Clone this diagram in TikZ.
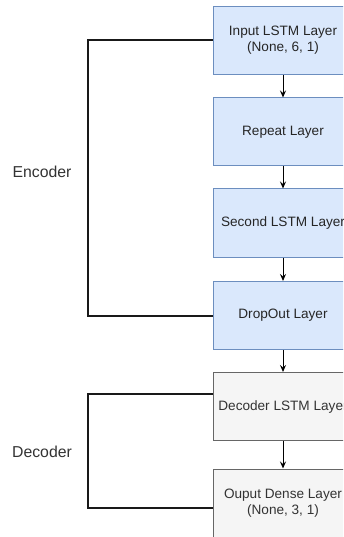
\documentclass[tikz,border=0pt]{standalone}
\usepackage{fontspec}
\setmainfont{Liberation Sans}
\usetikzlibrary{arrows.meta,calc}
\definecolor{bfill}{HTML}{DAE8FC}
\definecolor{bline}{HTML}{6C8EBF}
\definecolor{gfill}{HTML}{F5F5F5}
\definecolor{gline}{HTML}{666666}
\definecolor{gtext}{HTML}{333333}
\begin{document}
\begin{tikzpicture}[x=1pt,y=1pt,
  layer/.style={rectangle, minimum width=140pt, minimum height=68pt, inner sep=0pt, align=center,
     font=\fontsize{13.6}{16}\selectfont},
  enc/.style={layer, fill=bfill, draw=bline, line width=1pt, text=black!85},
  dec/.style={layer, fill=gfill, draw=gline, line width=1pt, text=gtext},
  flow/.style={draw=black, line width=1pt, -{Stealth[length=7pt,width=6pt,inset=2.5pt]}},
  brace/.style={draw=black!90, line width=2pt},
  lbl/.style={font=\fontsize{15.8}{18}\selectfont, text=gtext}]
\useasboundingbox (0,0) rectangle (343,-537);
\clip (0,0) rectangle (343,-537);
\node[enc] (b1) at (283,-40.5) {Input LSTM Layer\\(None, 6, 1)};
\node[enc] (b2) at (283,-132) {Repeat Layer};
\node[enc] (b3) at (283,-223) {Second LSTM Layer};
\node[enc] (b4) at (283,-315.5) {DropOut Layer};
\node[dec] (b5) at (283,-406.5) {Decoder LSTM Layer};
\node[dec, minimum height=69pt] (b6) at (283,-503.5) {Ouput Dense Layer\\(None, 3, 1)};
\draw[flow] (b1.south) -- (b2.north);
\draw[flow] (b2.south) -- (b3.north);
\draw[flow] (b3.south) -- (b4.north);
\draw[flow] (b4.south) -- (b5.north);
\draw[flow] (b5.south) -- (b6.north);
\coordinate (e1) at (88,-40.5);
\coordinate (d1) at (88,-394);
\draw[brace] (b1.west) -- (e1) |- (b4.west);
\draw[brace] ([yshift=12.5pt]b5.west) -- (d1) |- ([yshift=-4.5pt]b6.west);
\node[lbl] (enc) at (42,-172) {Encoder};
\node[lbl] (dec) at (42,-452) {Decoder};
\end{tikzpicture}
\end{document}
